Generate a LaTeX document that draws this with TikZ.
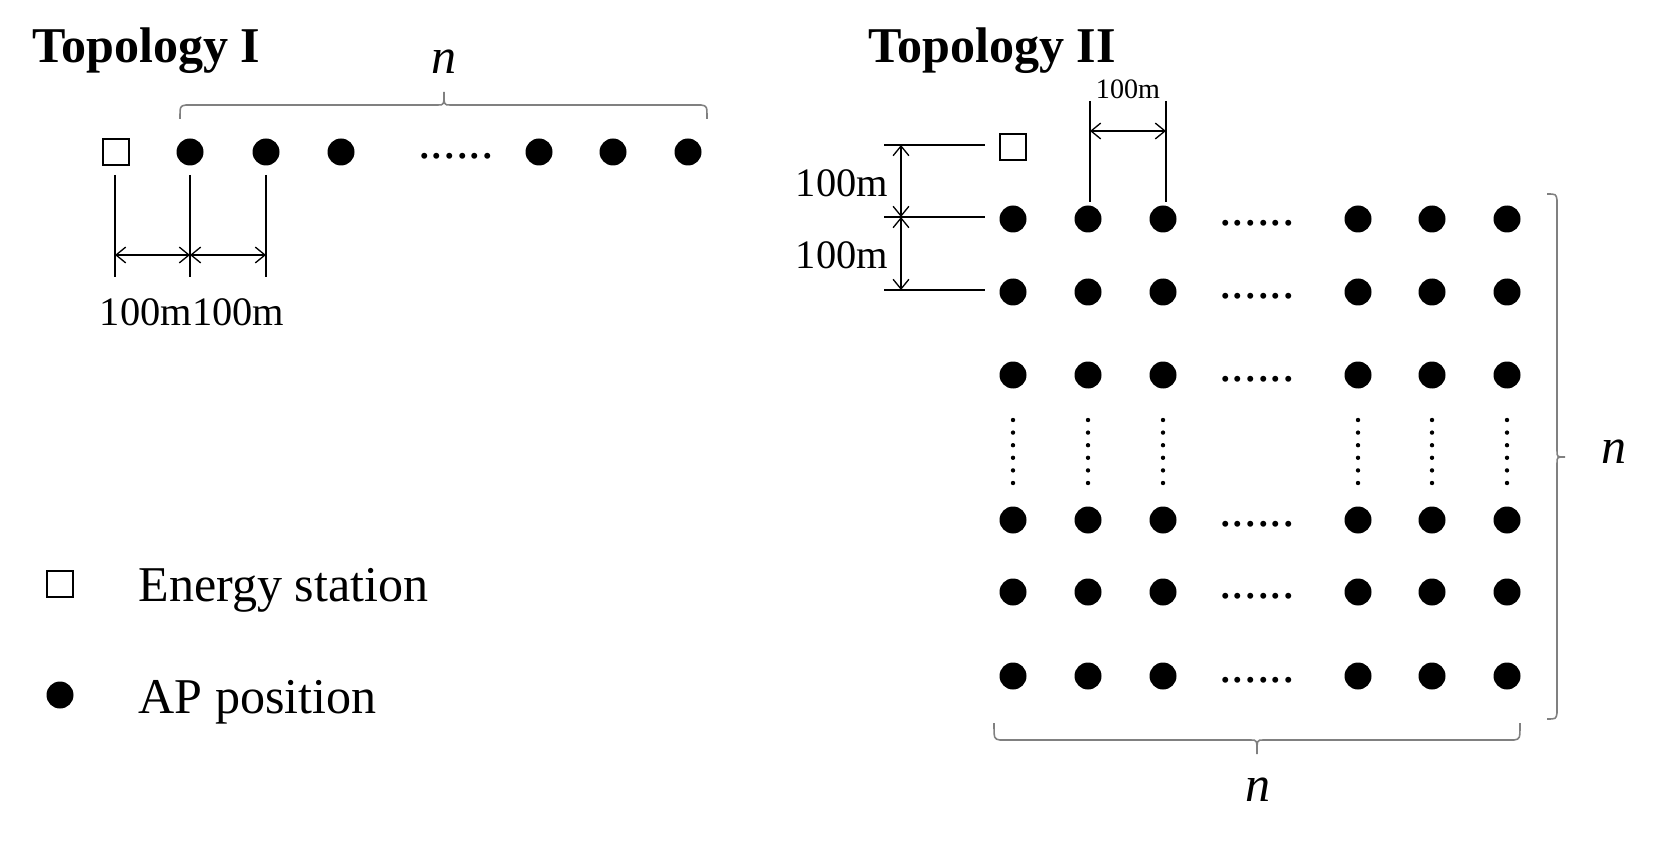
\documentclass[tikz,border=0pt]{standalone}
\usepackage{fontspec}
\setmainfont{Liberation Serif}
\usetikzlibrary{arrows.meta}

\begin{document}
\begin{tikzpicture}[>={Straight Barb[length=5.5pt,width=9pt]},line width=0.75pt,
	x=0.02cm,y=-0.02cm,
	schrift/.style={inner sep=0pt},
	titel/.style={schrift,font=\fontsize{28.5pt}{34pt}\selectfont\bfseries},
	gross/.style={schrift,font=\fontsize{28.5pt}{34pt}\selectfont},
	mittel/.style={schrift,font=\fontsize{23pt}{28pt}\selectfont},
	klein/.style={schrift,font=\fontsize{16pt}{19pt}\selectfont},
	klammer/.style={color=gray,line width=0.9pt}]

\useasboundingbox (0,0) rectangle (1659,844);

\def\punkt#1{
	\fill #1 circle[radius=13.5];
}

\def\station#1{
	\draw[line width=1.1pt] #1 ++(-13,-13) rectangle ++(26,26);
}

\def\spalte#1{
	\foreach \k in {0,...,5}{
		\fill (#1,420+12.6*\k) circle[radius=2.2];
	}
}

% Topology I
\node[titel,anchor=base west] (titelA) at (32,63) {Topology I};
\node[gross,anchor=base] (nA) at (444,74) {\textit{n}};
\draw[klammer]
	   (180,119) .. controls (180,106) .. (186,105) -- (438,105)
	.. controls (444,105) .. (444,92) .. controls (444,105) .. (450,105)
	-- (701,105) .. controls (707,106) .. (707,119);

\station{(116,152)}
\foreach \x in {190,266,341,539,613,688}{
	\punkt{(\x,152)}
}
\node[gross] (punkteA) at (456,156) {......};

\foreach \x in {115,190,266}{
	\draw (\x,175) -- (\x,277);
}
\draw[<->] (115,255) -- (190,255);
\draw[<->] (190,255) -- (266,255);
\node[mittel,anchor=base] (abstandA) at (192,326) {100m100m};

% Topology II
\node[titel,anchor=base west] (titelB) at (868,63) {Topology II};

\node[klein,anchor=base] (abstandD) at (1128,99) {100m};
\foreach \x in {1090,1166}{
	\draw (\x,101) -- (\x,202);
}
\draw[<->] (1090,131) -- (1166,131);

\foreach \y in {145,217,290}{
	\draw (884,\y) -- (985,\y);
}
\draw[<->] (901,145) -- (901,217);
\draw[<->] (901,217) -- (901,290);
\node[mittel,anchor=base] (abstandB) at (842,197) {100m};
\node[mittel,anchor=base] (abstandC) at (842,269) {100m};

\station{(1013,147)}
\foreach \x in {1013,1088,1163,1358,1432,1507}{
	\foreach \y in {219,292,375,520,592,676}{
		\punkt{(\x,\y)}
	}
	\spalte{\x}
}
\foreach \y in {219,292,375,520,592,676}{
	\node[gross] (punkteB\y) at (1257,\y+4) {......};
}

\draw[klammer]
	   (1547,194) .. controls (1556,194) .. (1557,200) -- (1557,451)
	.. controls (1557,457) .. (1565,457) .. controls (1557,457) .. (1557,463)
	-- (1557,713) .. controls (1556,719) .. (1547,719);
\node[gross,anchor=base] (nB) at (1614,463) {\textit{n}};

\draw[klammer]
	   (994,723) .. controls (994,739) .. (1000,740) -- (1251,740)
	.. controls (1257,740) .. (1257,754) .. controls (1257,740) .. (1263,740)
	-- (1514,740) .. controls (1520,739) .. (1520,723);
\node[gross,anchor=base] (nC) at (1258,801) {\textit{n}};

% Legende
\station{(60,584)}
\node[gross,anchor=base west] (legendeA) at (138,601) {Energy station};
\punkt{(60,695)}
\node[gross,anchor=base west] (legendeB) at (138,713) {AP position};

\end{tikzpicture}
\end{document}
